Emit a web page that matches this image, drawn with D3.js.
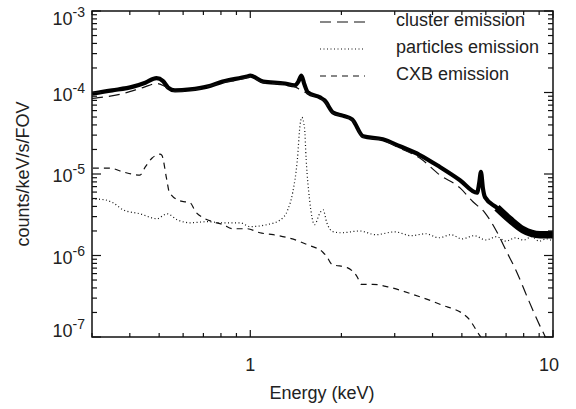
<!DOCTYPE html>
<html>
<head>
<meta charset="utf-8">
<script src="https://cdn.jsdelivr.net/npm/d3@7/dist/d3.min.js"></script>
<style>
  html, body { margin: 0; padding: 0; background: #fff; }
  svg { display: block; font-family: "Liberation Sans", Arial, Helvetica, sans-serif; }
</style>
</head>
<body>
<svg id="chart" width="576" height="409"></svg>
<script>
// ---- data ----
const totalEnergy = [0.30,0.35,0.41,0.45,0.49,0.515,0.535,0.564,0.633,0.72,0.81,0.975,1.0,1.104,1.30,1.40,1.44,1.475,1.51,1.55,1.70,1.76,1.876,2.02,2.17,2.36,2.74,3.12,3.63,4.23,4.93,5.61,5.70,5.78,5.87,5.96,6.53,7.21,7.96,9.06,10.0];
const totalCounts = [9.7e-5,1.06e-4,1.18e-4,1.32e-4,1.50e-4,1.38e-4,1.15e-4,1.06e-4,1.09e-4,1.18e-4,1.36e-4,1.57e-4,1.61e-4,1.36e-4,1.29e-4,1.22e-4,1.35e-4,1.61e-4,1.25e-4,1.0e-4,8.7e-5,8.0e-5,5.7e-5,5.2e-5,4.69e-5,2.9e-5,2.67e-5,2.19e-5,1.71e-5,1.22e-5,8.4e-6,5.9e-6,7.6e-6,1.06e-5,6.6e-6,5.2e-6,3.85e-6,2.75e-6,2.07e-6,1.80e-6,1.80e-6];

const clusterEnergy = [0.30,0.38,0.442,0.492,0.531,0.564,0.633,0.81,0.975,1.0,1.104,1.30,1.40,1.475,1.55,1.70,1.76,1.876,2.02,2.17,2.36,2.74,3.12,3.63,4.23,4.93,5.44,5.96,6.44,7.05,7.6,8.2,9.06,9.4,10.0];
const clusterCounts = [8.45e-5,9.7e-5,1.15e-4,1.29e-4,1.15e-4,1.03e-4,1.06e-4,1.32e-4,1.52e-4,1.57e-4,1.32e-4,1.26e-4,1.18e-4,1.06e-4,9.7e-5,8.4e-5,7.8e-5,5.6e-5,5.1e-5,4.6e-5,2.83e-5,2.6e-5,2.07e-5,1.57e-5,9.7e-6,6.75e-6,4.56e-6,3.34e-6,2.13e-6,1.09e-6,6.2e-7,3.16e-7,1.36e-7,1.03e-7,6.0e-8];

const particleEnergy = [0.30,0.331,0.352,0.38,0.432,0.492,0.531,0.573,0.633,0.72,0.813,0.925,1.0,1.135,1.26,1.33,1.38,1.43,1.46,1.48,1.51,1.53,1.57,1.63,1.70,1.74,1.79,1.876,2.0,2.3,2.6,3.0,3.4,3.8,4.2,4.6,5.0,5.5,6.0,6.5,7.0,7.5,8.0,8.5,9.0,9.5,10.0];
const particleCounts = [4.95e-6,4.82e-6,4.43e-6,3.64e-6,3.25e-6,2.83e-6,3.25e-6,2.75e-6,2.52e-6,2.6e-6,2.52e-6,2.52e-6,2.26e-6,2.39e-6,2.75e-6,3.64e-6,5.86e-6,1.48e-5,3.96e-5,4.95e-5,3.74e-5,1.48e-5,4.82e-6,2.39e-6,3.34e-6,3.64e-6,2.52e-6,1.96e-6,1.9e-6,2.0e-6,1.8e-6,1.95e-6,1.75e-6,1.85e-6,1.65e-6,1.8e-6,1.6e-6,1.75e-6,1.55e-6,1.7e-6,1.5e-6,1.65e-6,1.55e-6,1.7e-6,1.5e-6,1.6e-6,1.5e-6];

const cxbEnergy = [0.302,0.344,0.38,0.432,0.45,0.474,0.503,0.51,0.53,0.54,0.585,0.633,0.66,0.70,0.75,0.813,0.875,0.975,1.076,1.19,1.46,1.54,1.74,1.79,1.86,2.09,2.25,2.33,2.54,2.89,3.44,4.23,5.21,5.74,6.2];
const cxbCounts = [1.18e-5,1.18e-5,1.06e-5,9.7e-6,1.22e-5,1.57e-5,1.75e-5,1.7e-5,8.45e-6,6.0e-6,4.69e-6,4.43e-6,3.44e-6,2.9e-6,2.6e-6,2.39e-6,2.13e-6,2.13e-6,1.9e-6,1.8e-6,1.48e-6,1.36e-6,1.09e-6,9.7e-7,7.8e-7,7.1e-7,5.55e-7,4.43e-7,4.43e-7,4.07e-7,3.34e-7,2.52e-7,1.75e-7,1.03e-7,7.0e-8];

const xTickLabels = ["1", "10"];
const yTickLabels = ["-7", "-6", "-5", "-4", "-3"];
const legendLabels = ["cluster emission", "particles emission", "CXB emission"];
const xTitle = "Energy (keV)";
const yTitle = "counts/keV/s/FOV";

// ---- layout ----
const svg = d3.select("#chart");
const L = 92, R = 553, T = 11, B = 337;
const x = d3.scaleLog().domain([0.3, 10]).range([L, R]);
const y = d3.scaleLog().domain([1e-7, 1e-3]).range([B, T]);
const ink = "#111";

svg.append("defs").append("clipPath").attr("id", "clip")
  .append("rect").attr("x", L).attr("y", T).attr("width", R - L).attr("height", B - T);

function toPts(E, C) { return E.map((e, i) => [e, C[i]]); }
const line = d3.line().x(d => x(d[0])).y(d => y(d[1])).curve(d3.curveMonotoneX);

const plot = svg.append("g").attr("clip-path", "url(#clip)");

// CXB (short dash)
plot.append("path").attr("d", line(toPts(cxbEnergy, cxbCounts)))
  .attr("fill", "none").attr("stroke", ink).attr("stroke-width", 1.2).attr("stroke-dasharray", "6,5");
// particles (dotted)
plot.append("path").attr("d", line(toPts(particleEnergy, particleCounts)))
  .attr("fill", "none").attr("stroke", ink).attr("stroke-width", 1.2).attr("stroke-dasharray", "1,2.5");
// total (thick)
const totalPts = toPts(totalEnergy, totalCounts);
plot.append("path").attr("d", line(totalPts))
  .attr("fill", "none").attr("stroke", "#000").attr("stroke-width", 4.2).attr("stroke-linejoin", "round");
plot.append("path").attr("d", line(totalPts.filter(d => d[0] >= 6.5)))
  .attr("fill", "none").attr("stroke", "#000").attr("stroke-width", 7.5).attr("stroke-linejoin", "round");
// cluster (long dash)
plot.append("path").attr("d", line(toPts(clusterEnergy, clusterCounts)))
  .attr("fill", "none").attr("stroke", ink).attr("stroke-width", 1.2).attr("stroke-dasharray", "11,6");

// ---- axes frame ----
const axisG = svg.append("g").attr("stroke", ink).attr("stroke-width", 1.5).attr("fill", "none");
axisG.append("rect").attr("x", L).attr("y", T).attr("width", R - L).attr("height", B - T);

// x ticks (bottom and top, inward)
const xTicks = x.ticks();
xTicks.forEach(v => {
  const major = Math.abs(Math.log10(v) - Math.round(Math.log10(v))) < 1e-9;
  const len = major ? 7 : 4;
  const px = x(v);
  axisG.append("line").attr("x1", px).attr("x2", px).attr("y1", B).attr("y2", B - len).attr("stroke-width", 1.2);
  axisG.append("line").attr("x1", px).attr("x2", px).attr("y1", T).attr("y2", T + len).attr("stroke-width", 1.2);
});
// y ticks (left and right, inward)
const yTicks = y.ticks();
yTicks.forEach(v => {
  const major = Math.abs(Math.log10(v) - Math.round(Math.log10(v))) < 1e-9;
  const len = major ? 9 : 5;
  const py = y(v);
  axisG.append("line").attr("x1", L).attr("x2", L + len).attr("y1", py).attr("y2", py).attr("stroke-width", 1.2);
  axisG.append("line").attr("x1", R).attr("x2", R - len).attr("y1", py).attr("y2", py).attr("stroke-width", 1.2);
});

// ---- tick labels ----
const labG = svg.append("g").attr("fill", "#222").attr("font-size", 18);
[1, 10].forEach((v, i) => {
  labG.append("text").attr("x", i === 1 ? x(v) - 4 : x(v)).attr("y", 371)
    .attr("text-anchor", "middle").text(xTickLabels[i]);
});
[1e-7, 1e-6, 1e-5, 1e-4, 1e-3].forEach((v, i) => {
  let base = y(v) + 8;
  if (i === 0) base = y(v) + 0;
  if (i === 4) base = y(v) + 14;
  const t = labG.append("text").attr("x", 85).attr("y", base).attr("text-anchor", "end");
  t.append("tspan").text("10");
  t.append("tspan").attr("font-size", 14).attr("dy", -8).text(yTickLabels[i]);
});

// ---- axis titles ----
svg.append("text").attr("x", 322).attr("y", 399).attr("text-anchor", "middle")
  .attr("font-size", 18).attr("fill", "#222").text(xTitle);
svg.append("text").attr("transform", `translate(29,${(T + B) / 2}) rotate(-90)`)
  .attr("text-anchor", "middle").attr("font-size", 18).attr("fill", "#222").text(yTitle);

// ---- legend ----
const legRows = [22, 49, 76];
const dashes = ["11,6", "1,2.5", "6,5"];
legendLabels.forEach((lab, i) => {
  svg.append("line").attr("x1", 320).attr("x2", 365).attr("y1", legRows[i]).attr("y2", legRows[i])
    .attr("stroke", ink).attr("stroke-width", 1.2).attr("stroke-dasharray", dashes[i]);
  svg.append("text").attr("x", 396).attr("y", legRows[i] - 1).attr("dominant-baseline", "middle")
    .attr("font-size", 18).attr("fill", "#222").text(lab);
});
</script>
</body>
</html>
